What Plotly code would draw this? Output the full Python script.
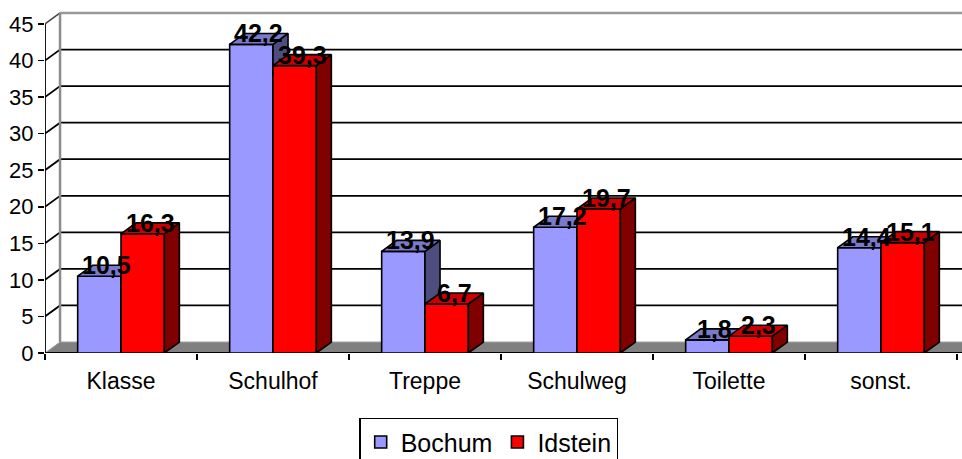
import plotly.graph_objects as go

# ---- data ----
categories = ["Klasse", "Schulhof", "Treppe", "Schulweg", "Toilette", "sonst."]
bochum = [10.5, 42.2, 13.9, 17.2, 1.8, 14.4]
idstein = [16.3, 39.3, 6.7, 19.7, 2.3, 15.1]
y_ticks = [0, 5, 10, 15, 20, 25, 30, 35, 40, 45]
series_names = ["Bochum", "Idstein"]

# ---- styling / geometry ----
BAR_W = 0.285          # width of one bar (category units)
DX = 0.099             # 3D depth offset, x (category units)
DY = 1.5               # 3D depth offset, y (value units)
X0 = -0.5
XMAX = 5.533
YMAX = 45
YRANGE = [0, 48]

front = {"Bochum": "#9999FF", "Idstein": "#FF0000"}
topc = {"Bochum": "#7A7ACC", "Idstein": "#CC0000"}
sidec = {"Bochum": "#4D4D80", "Idstein": "#800000"}

xs = list(range(len(categories)))
FONT = "Liberation Sans, Arial, sans-serif"


def fmt(v):
    return f"{v:.1f}".replace(".", ",")


def faces(values, offset):
    tx, ty, sx, sy = [], [], [], []
    for x, v in zip(xs, values):
        xl = x + offset
        xr = xl + BAR_W
        tx += [xl, xl + DX, xr + DX, xr, xl, None]
        ty += [v, v + DY, v + DY, v, v, None]
        sx += [xr, xr + DX, xr + DX, xr, xr, None]
        sy += [0, DY, v + DY, v, 0, None]
    return tx, ty, sx, sy


fig = go.Figure()

series = [("Bochum", bochum, -BAR_W, "x", "y"), ("Idstein", idstein, 0.0, "x2", "y2")]
for name, vals, off, xa, ya in series:
    fig.add_trace(go.Bar(
        x=xs, y=vals, offset=off, width=BAR_W, name=name,
        marker=dict(color=front[name], line=dict(color="black", width=1.6)),
        xaxis=xa, yaxis=ya, hoverinfo="skip"))
    tx, ty, sx, sy = faces(vals, off)
    fig.add_trace(go.Scatter(
        x=sx, y=sy, mode="lines", fill="toself", fillcolor=sidec[name],
        line=dict(color="black", width=1.6), showlegend=False,
        xaxis=xa, yaxis=ya, hoverinfo="skip"))
    fig.add_trace(go.Scatter(
        x=tx, y=ty, mode="lines", fill="toself", fillcolor=topc[name],
        line=dict(color="black", width=1.6), showlegend=False,
        xaxis=xa, yaxis=ya, hoverinfo="skip"))

# ---- walls, floor, gridlines ----
shapes = []
shapes.append(dict(type="path", xref="x", yref="y", layer="below",
                   path=f"M {X0},0 L {X0+DX},{DY} L {XMAX+1},{DY} L {XMAX+1},0 Z",
                   fillcolor="#808080", line=dict(color="#A0A0A0", width=1)))
for t in y_ticks[1:-1]:
    shapes.append(dict(type="path", xref="x", yref="y", layer="below",
                       path=f"M {X0},{t} L {X0+DX},{t+DY} L {XMAX+1},{t+DY}",
                       line=dict(color="black", width=1.8)))
shapes.append(dict(type="line", xref="x", yref="y", layer="below",
                   x0=X0, y0=YMAX, x1=X0 + DX, y1=YMAX + DY,
                   line=dict(color="#404040", width=1.5)))
shapes.append(dict(type="line", xref="x", yref="y", layer="below",
                   x0=X0 + DX, y0=YMAX + DY, x1=XMAX + 1, y1=YMAX + DY,
                   line=dict(color="#999999", width=2.5)))
shapes.append(dict(type="line", xref="x", yref="y", layer="below",
                   x0=X0 + DX, y0=DY, x1=X0 + DX, y1=YMAX + DY,
                   line=dict(color="#8C8C8C", width=2.5)))
shapes.append(dict(type="line", xref="x", yref="y", layer="below",
                   x0=X0, y0=0, x1=X0, y1=YMAX,
                   line=dict(color="black", width=1.8)))
shapes.append(dict(type="line", xref="x", yref="y", layer="below",
                   x0=X0, y0=0, x1=XMAX + 1, y1=0,
                   line=dict(color="black", width=1.8)))

# ---- data labels ----
annotations = []
for name, vals, off, xa, ya in series:
    for x, v in zip(xs, vals):
        annotations.append(dict(
            x=x + off + BAR_W / 2 + DX / 2, y=v + DY, xref="x", yref="y",
            text=fmt(v), showarrow=False, xanchor="center", yanchor="middle",
            font=dict(family=FONT, size=25, color="black", weight="bold")))

boundaries = [X0 + i for i in range(len(categories) + 1)]

fig.update_layout(
    width=962, height=459,
    margin=dict(l=45, r=0, t=2, b=106, autoexpand=False),
    paper_bgcolor="white", plot_bgcolor="white",
    shapes=shapes, annotations=annotations,
    showlegend=True,
    legend=dict(orientation="h", xref="container", yref="container",
                x=0.508, xanchor="center", y=0.09, yanchor="top",
                bordercolor="black", borderwidth=1.5,
                font=dict(family=FONT, size=25, color="black"),
                itemwidth=30, traceorder="normal"),
    xaxis=dict(range=[X0, XMAX], tickvals=boundaries, ticktext=[""] * len(boundaries),
               ticks="outside", ticklen=6, tickcolor="black", tickwidth=1.5,
               showgrid=False, zeroline=False, showline=False, fixedrange=True,
               automargin=False),
    xaxis2=dict(range=[X0, XMAX], overlaying="x", anchor="y2", side="bottom",
                tickvals=xs, ticktext=categories, ticks="", showgrid=False,
                zeroline=False, showline=False, ticklabelstandoff=12, automargin=False,
                tickfont=dict(family=FONT, size=23, color="black")),
    yaxis=dict(range=YRANGE, tickvals=y_ticks, ticks="outside", ticklen=6,
               tickcolor="black", tickwidth=1.5, showgrid=False, zeroline=False,
               showline=False, automargin=False,
               tickfont=dict(family=FONT, size=22, color="black")),
    yaxis2=dict(range=YRANGE, overlaying="y", anchor="x2", visible=False),
)

fig.write_html("out.html", config={"displayModeBar": False, "staticPlot": True},
               post_script="document.body.style.margin='0';document.body.style.overflow='hidden';")
